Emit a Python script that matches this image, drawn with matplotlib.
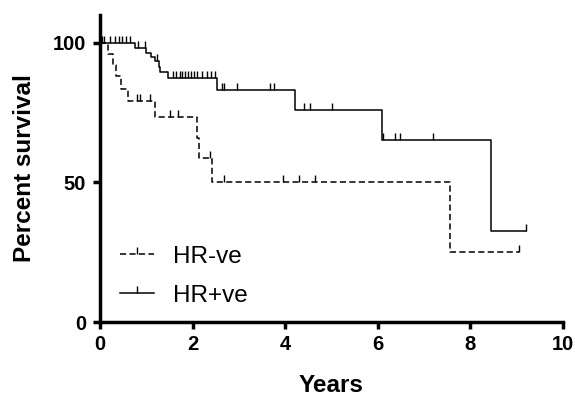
import numpy as np
import matplotlib
matplotlib.use("Agg")
import matplotlib.pyplot as plt
from matplotlib.path import Path
from matplotlib.lines import Line2D

# HR+ve (solid): step times and survival levels after each step
pos_times = [0.0, 0.76, 1.00, 1.10, 1.18, 1.27, 1.30, 1.46, 2.53, 4.22, 6.10, 8.45]
pos_surv = [100.0, 98.0, 96.5, 95.0, 93.5, 91.5, 89.5, 87.4, 83.2, 76.0, 65.2, 32.5]
pos_end = 9.21
pos_censor = [0.05, 0.22, 0.32, 0.40, 0.48, 0.57, 0.65, 0.83, 0.97, 1.22,
              1.58, 1.65, 1.72, 1.78, 1.84, 1.90, 1.96, 2.02, 2.10, 2.20, 2.30,
              2.40, 2.48, 2.63, 2.67, 2.96, 3.68, 3.75, 4.40, 4.53, 5.01,
              6.12, 6.37, 6.47, 7.20, 9.21]

# HR-ve (dashed)
neg_times = [0.0, 0.17, 0.28, 0.35, 0.46, 0.60, 1.19, 2.09, 2.13, 2.41, 7.57]
neg_surv = [100.0, 96.0, 92.0, 88.0, 83.5, 79.2, 73.3, 66.0, 58.6, 50.3, 25.0]
neg_end = 9.06
neg_censor = [0.08, 0.79, 0.87, 1.08, 1.51, 1.69, 2.37, 2.68, 3.95, 4.30, 4.65, 9.06]

x_ticks = [0, 2, 4, 6, 8, 10]
y_ticks = [0, 50, 100]
labels = ['HR-ve', 'HR+ve']

plt.rcParams['font.family'] = ['Liberation Sans', 'DejaVu Sans']

fig = plt.figure(figsize=(5.75, 4.0), dpi=100)
ax = fig.add_axes([0.174, 0.195, 0.805, 0.7675])

tick_marker = Path([(0, 0), (0, 1)], [Path.MOVETO, Path.LINETO])
DASH = (4, 2.2)


def level_at(times, surv, t):
    idx = np.searchsorted(times, t, side='right') - 1
    return np.asarray(surv)[idx]


def draw(times, surv, end, censor, dashed):
    xs = list(times) + [end]
    ys = list(surv) + [surv[-1]]
    line, = ax.step(xs, ys, where='post', color='black', lw=1.1)
    if dashed:
        line.set_dashes(DASH)
    cy = [level_at(times, surv, t) for t in censor]
    ax.plot(censor, cy, linestyle='none', marker=tick_marker, markersize=10,
            markeredgewidth=1.0, color='black')


draw(neg_times, neg_surv, neg_end, neg_censor, True)
draw(pos_times, pos_surv, pos_end, pos_censor, False)

ax.set_xlim(0, 10)
ax.set_ylim(0, 110)
ax.set_xticks(x_ticks)
ax.set_yticks(y_ticks)
ax.spines['top'].set_visible(False)
ax.spines['right'].set_visible(False)
for s in ['left', 'bottom']:
    ax.spines[s].set_linewidth(2.5)
ax.tick_params(axis='both', direction='out', length=5, width=2.5,
               labelsize=14.5)
ax.tick_params(axis='y', pad=5)
ax.tick_params(axis='x', pad=4)
for lab in ax.get_xticklabels() + ax.get_yticklabels():
    lab.set_fontweight('bold')

ax.set_xlabel('Years', fontsize=17.5, fontweight='bold', labelpad=15)
ax.set_ylabel('Percent survival', fontsize=17.5, fontweight='bold', labelpad=12)

h_neg = Line2D([], [], color='black', lw=1.1, dashes=DASH,
               marker=tick_marker, markersize=10, markeredgewidth=1.0)
h_pos = Line2D([], [], color='black', lw=1.1,
               marker=tick_marker, markersize=10, markeredgewidth=1.0)
ax.legend([h_neg, h_pos], labels, loc='lower left',
          bbox_to_anchor=(0.043, 0.05), borderaxespad=0, borderpad=0,
          frameon=False, fontsize=17.5,
          handlelength=1.4, handletextpad=0.8, labelspacing=0.7, numpoints=1)

fig.savefig('out.png', dpi=100)
